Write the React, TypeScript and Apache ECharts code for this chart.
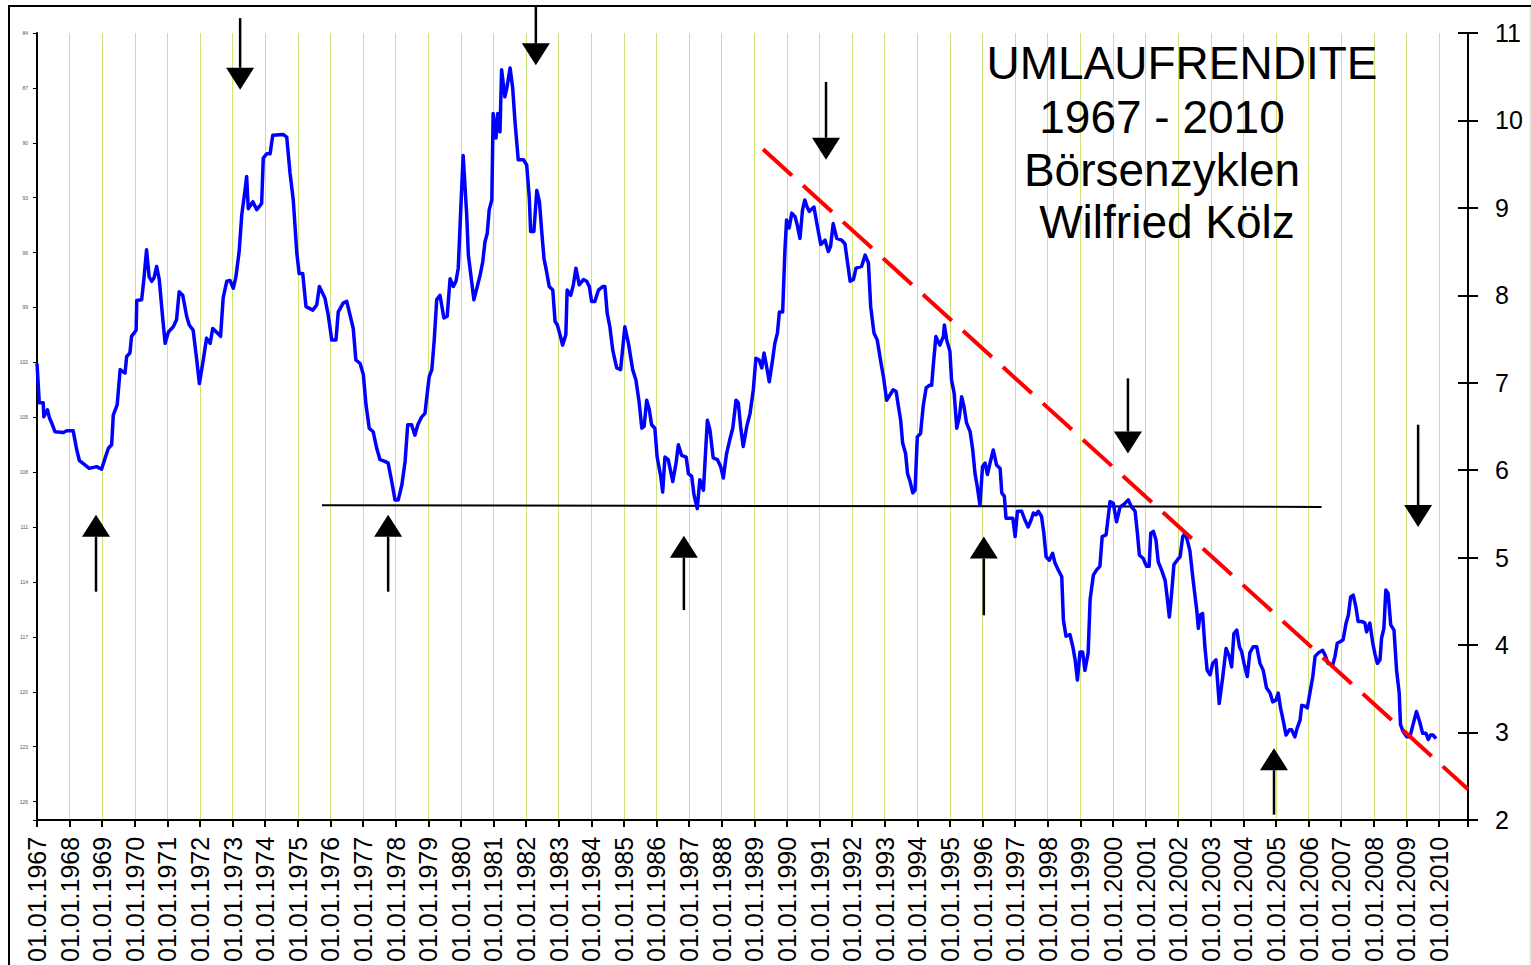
import React, { useEffect, useRef } from "react";
import * as echarts from "echarts";

// Umlaufrendite (decimal year, yield in %)
const umlaufrendite: [number, number][] = [
  [1967.00,7.22],[1967.07,6.77],[1967.19,6.77],[1967.21,6.61],[1967.32,6.69],[1967.38,6.60],[1967.45,6.54],[1967.55,6.44],[1967.81,6.43],[1967.91,6.45],
  [1968.11,6.45],[1968.22,6.23],[1968.30,6.11],[1968.47,6.06],[1968.60,6.02],[1968.83,6.04],[1968.98,6.01],[1969.09,6.14],[1969.19,6.25],[1969.29,6.29],
  [1969.34,6.63],[1969.46,6.75],[1969.55,7.15],[1969.70,7.11],[1969.75,7.30],[1969.85,7.34],[1969.90,7.53],[1970.04,7.60],[1970.06,7.94],[1970.21,7.95],
  [1970.28,8.19],[1970.36,8.52],[1970.44,8.21],[1970.52,8.16],[1970.59,8.20],[1970.67,8.33],[1970.75,8.18],[1970.86,7.72],[1970.93,7.45],[1971.03,7.58],
  [1971.18,7.64],[1971.28,7.72],[1971.36,8.04],[1971.47,8.00],[1971.59,7.76],[1971.67,7.66],[1971.79,7.60],[1971.90,7.26],[1971.98,6.99],[1972.10,7.26],
  [1972.20,7.51],[1972.31,7.45],[1972.39,7.62],[1972.53,7.57],[1972.63,7.53],[1972.71,7.97],[1972.82,8.16],[1972.92,8.17],[1973.02,8.08],[1973.10,8.21],
  [1973.20,8.50],[1973.28,8.92],[1973.38,9.20],[1973.43,9.36],[1973.48,8.99],[1973.62,9.07],[1973.74,8.98],[1973.89,9.05],[1973.94,9.57],[1974.05,9.62],
  [1974.15,9.62],[1974.23,9.83],[1974.55,9.84],[1974.66,9.81],[1974.76,9.40],[1974.86,9.09],[1974.97,8.48],[1975.04,8.25],[1975.15,8.25],[1975.25,7.87],
  [1975.46,7.83],[1975.58,7.89],[1975.66,8.10],[1975.83,7.97],[1975.93,7.78],[1976.04,7.49],[1976.17,7.49],[1976.24,7.81],[1976.39,7.91],[1976.50,7.93],
  [1976.70,7.62],[1976.78,7.26],[1976.91,7.22],[1977.01,7.09],[1977.09,6.75],[1977.19,6.48],[1977.31,6.44],[1977.42,6.25],[1977.52,6.12],[1977.67,6.10],
  [1977.77,6.08],[1977.88,5.87],[1977.98,5.66],[1978.08,5.66],[1978.19,5.83],[1978.29,6.10],[1978.37,6.52],[1978.49,6.52],[1978.59,6.40],[1978.68,6.52],
  [1978.80,6.61],[1978.90,6.65],[1978.95,6.82],[1979.03,7.07],[1979.11,7.15],[1979.18,7.47],[1979.26,7.95],[1979.36,8.00],[1979.48,7.74],[1979.58,7.76],
  [1979.67,8.19],[1979.77,8.10],[1979.85,8.16],[1979.92,8.31],[1979.99,8.92],[1980.07,9.60],[1980.18,8.92],[1980.23,8.46],[1980.33,8.16],[1980.40,7.95],
  [1980.49,8.08],[1980.59,8.23],[1980.67,8.38],[1980.74,8.61],[1980.81,8.71],[1980.87,8.98],[1980.95,9.09],[1980.99,10.08],[1981.08,9.80],[1981.13,10.08],
  [1981.20,9.87],[1981.25,10.58],[1981.35,10.27],[1981.42,10.39],[1981.51,10.60],[1981.59,10.37],[1981.66,9.99],[1981.76,9.55],[1981.92,9.55],[1982.02,9.49],
  [1982.10,9.11],[1982.14,8.73],[1982.24,8.73],[1982.33,9.20],[1982.41,9.07],[1982.48,8.73],[1982.55,8.42],[1982.63,8.27],[1982.71,8.10],[1982.82,8.06],
  [1982.89,7.70],[1982.96,7.66],[1983.04,7.55],[1983.12,7.43],[1983.22,7.55],[1983.26,8.06],[1983.37,8.00],[1983.45,8.12],[1983.53,8.31],[1983.63,8.12],
  [1983.76,8.18],[1983.86,8.16],[1983.94,8.10],[1984.01,7.93],[1984.11,7.93],[1984.22,8.06],[1984.35,8.10],[1984.42,8.10],[1984.49,7.79],[1984.57,7.64],
  [1984.66,7.37],[1984.78,7.17],[1984.90,7.15],[1985.03,7.64],[1985.14,7.45],[1985.27,7.15],[1985.37,7.03],[1985.47,6.77],[1985.55,6.48],[1985.62,6.50],
  [1985.70,6.80],[1985.78,6.69],[1985.85,6.52],[1985.95,6.48],[1986.02,6.15],[1986.13,5.93],[1986.19,5.75],[1986.26,6.15],[1986.36,6.12],[1986.50,5.87],
  [1986.60,6.08],[1986.67,6.29],[1986.77,6.17],[1986.91,6.15],[1986.98,5.96],[1987.08,5.93],[1987.15,5.72],[1987.25,5.56],[1987.33,5.89],[1987.44,5.77],
  [1987.56,6.57],[1987.64,6.46],[1987.74,6.14],[1987.87,6.12],[1987.97,6.04],[1988.05,5.91],[1988.15,6.19],[1988.25,6.35],[1988.34,6.48],[1988.44,6.80],
  [1988.51,6.77],[1988.58,6.50],[1988.66,6.27],[1988.77,6.50],[1988.87,6.65],[1988.97,6.92],[1989.05,7.28],[1989.15,7.26],[1989.23,7.17],[1989.30,7.34],
  [1989.38,7.18],[1989.46,7.01],[1989.56,7.26],[1989.63,7.45],[1989.71,7.57],[1989.77,7.81],[1989.87,7.81],[1989.94,8.52],[1989.99,8.86],[1990.07,8.77],
  [1990.15,8.94],[1990.25,8.90],[1990.32,8.80],[1990.40,8.65],[1990.48,8.98],[1990.55,9.09],[1990.62,9.01],[1990.69,8.96],[1990.83,9.01],[1990.93,8.80],
  [1991.04,8.58],[1991.17,8.63],[1991.27,8.50],[1991.34,8.56],[1991.42,8.82],[1991.53,8.65],[1991.68,8.63],[1991.78,8.59],[1991.85,8.40],[1991.94,8.16],
  [1992.04,8.18],[1992.12,8.31],[1992.29,8.33],[1992.40,8.46],[1992.50,8.37],[1992.57,7.87],[1992.67,7.57],[1992.77,7.49],[1992.88,7.24],[1992.96,7.07],
  [1993.06,6.80],[1993.16,6.86],[1993.26,6.92],[1993.35,6.90],[1993.42,6.73],[1993.49,6.57],[1993.55,6.31],[1993.64,6.19],[1993.70,5.96],[1993.78,5.87],
  [1993.86,5.74],[1993.93,5.77],[1994.00,6.38],[1994.10,6.42],[1994.18,6.73],[1994.27,6.94],[1994.37,6.97],[1994.44,6.97],[1994.49,7.20],[1994.57,7.53],
  [1994.69,7.43],[1994.80,7.53],[1994.83,7.66],[1994.90,7.49],[1995.00,7.36],[1995.05,7.03],[1995.13,6.88],[1995.21,6.48],[1995.29,6.61],[1995.36,6.84],
  [1995.43,6.73],[1995.51,6.54],[1995.62,6.44],[1995.70,6.23],[1995.77,5.96],[1995.84,5.81],[1995.92,5.60],[1996.00,6.04],[1996.08,6.08],[1996.15,5.95],
  [1996.23,6.08],[1996.33,6.23],[1996.43,6.06],[1996.54,6.02],[1996.59,5.74],[1996.67,5.70],[1996.72,5.45],[1996.84,5.45],[1996.93,5.45],[1997.00,5.24],
  [1997.07,5.53],[1997.20,5.53],[1997.30,5.43],[1997.40,5.35],[1997.49,5.43],[1997.56,5.51],[1997.64,5.49],[1997.71,5.53],[1997.81,5.47],[1997.88,5.28],
  [1997.95,5.01],[1998.05,4.97],[1998.15,5.05],[1998.22,4.94],[1998.32,4.86],[1998.43,4.78],[1998.48,4.29],[1998.56,4.10],[1998.68,4.12],[1998.77,3.98],
  [1998.84,3.83],[1998.91,3.60],[1998.99,3.92],[1999.07,3.92],[1999.14,3.71],[1999.24,3.91],[1999.30,4.52],[1999.40,4.80],[1999.50,4.86],[1999.60,4.90],
  [1999.67,5.24],[1999.79,5.26],[1999.91,5.64],[2000.01,5.62],[2000.11,5.41],[2000.22,5.58],[2000.34,5.61],[2000.47,5.66],[2000.57,5.58],[2000.68,5.53],
  [2000.75,5.28],[2000.81,5.03],[2000.93,4.99],[2001.03,4.90],[2001.11,4.90],[2001.16,5.28],[2001.24,5.30],[2001.32,5.20],[2001.39,4.95],[2001.49,4.86],
  [2001.60,4.74],[2001.65,4.59],[2001.73,4.32],[2001.80,4.59],[2001.87,4.92],[2001.97,4.97],[2002.06,5.01],[2002.14,5.24],[2002.21,5.28],[2002.28,5.20],
  [2002.36,5.08],[2002.46,4.74],[2002.57,4.40],[2002.62,4.19],[2002.67,4.34],[2002.75,4.36],[2002.82,3.98],[2002.89,3.71],[2002.98,3.66],[2003.06,3.79],
  [2003.16,3.83],[2003.26,3.33],[2003.37,3.64],[2003.47,3.96],[2003.57,3.87],[2003.64,3.75],[2003.71,4.13],[2003.80,4.17],[2003.88,3.98],[2003.95,3.92],
  [2004.02,3.79],[2004.12,3.64],[2004.20,3.91],[2004.30,3.98],[2004.41,3.98],[2004.51,3.79],[2004.61,3.71],[2004.71,3.51],[2004.82,3.45],[2004.90,3.35],
  [2005.00,3.37],[2005.07,3.45],[2005.14,3.28],[2005.22,3.14],[2005.31,2.97],[2005.41,3.03],[2005.48,3.03],[2005.58,2.95],[2005.65,3.05],[2005.74,3.14],
  [2005.79,3.31],[2005.89,3.30],[2005.96,3.28],[2006.04,3.45],[2006.13,3.64],[2006.20,3.87],[2006.30,3.91],[2006.43,3.94],[2006.50,3.89],[2006.60,3.79],
  [2006.74,3.77],[2006.81,3.87],[2006.88,4.02],[2006.98,4.04],[2007.06,4.06],[2007.15,4.25],[2007.22,4.34],[2007.29,4.55],[2007.37,4.57],[2007.45,4.44],
  [2007.52,4.27],[2007.63,4.27],[2007.73,4.25],[2007.78,4.15],[2007.88,4.25],[2007.97,4.02],[2008.04,3.89],[2008.11,3.79],[2008.19,3.83],[2008.24,4.08],
  [2008.31,4.19],[2008.37,4.63],[2008.44,4.59],[2008.52,4.23],[2008.62,4.17],[2008.70,3.71],[2008.78,3.45],[2008.82,3.09],[2008.90,3.01],[2009.01,2.95],
  [2009.11,2.95],[2009.19,3.07],[2009.31,3.24],[2009.41,3.12],[2009.50,2.99],[2009.60,2.99],[2009.67,2.92],[2009.74,2.97],[2009.82,2.97],[2009.91,2.93],
];

// Red falling trend line (dashed)
const trendLine: [number, number][] = [[1989.27, 9.67], [2010.89, 2.35]];
// Black horizontal support line
const supportLine: [number, number][] = [[1975.74, 5.60], [2006.40, 5.58]];
// Arrows: [year, tip value, tail value]
const upArrows: [number, number, number][] = [
  [1968.81, 5.49, 4.61],
  [1977.77, 5.49, 4.61],
  [1986.84, 5.25, 4.40],
  [1996.04, 5.24, 4.34],
  [2004.94, 2.82, 2.06],
];
const downArrows: [number, number, number][] = [
  [1973.23, 10.35, 11.17],
  [1982.30, 10.63, 11.32],
  [1991.20, 9.55, 10.44],
  [2000.46, 6.19, 7.05],
  [2009.36, 5.35, 6.52],
];

const xMin = 1967;
const xMax = 2010.89;
const titleLines = ["UMLAUFRENDITE", "1967 - 2010", "Börsenzyklen", "Wilfried Kölz"];

const FONT = "'Liberation Sans', Arial, Helvetica, sans-serif";

export default function App() {
  const ref = useRef<HTMLDivElement>(null);

  useEffect(() => {
    if (!ref.current) return;
    const chart = echarts.init(ref.current, null, { renderer: "svg" });

    const arrowData = [
      ...upArrows.map((a) => [a[0], a[1], a[2]]),
      ...downArrows.map((a) => [a[0], a[1], a[2]]),
    ];

    const titlePos = [
      { x: 1182, y: 63 },
      { x: 1162, y: 117 },
      { x: 1162, y: 170 },
      { x: 1167, y: 222 },
    ];

    const option: any = {
      animation: false,
      backgroundColor: "#ffffff",
      grid: { left: 37, right: 63, top: 33, bottom: 144, containLabel: false },
      xAxis: {
        type: "value",
        min: xMin,
        max: xMax,
        interval: 1,
        axisLine: { show: true, onZero: false, lineStyle: { color: "#000", width: 2 } },
        axisTick: {
          show: true,
          length: 7,
          lineStyle: { color: "#000", width: 2 },
        },
        axisLabel: {
          rotate: 90,
          margin: 17,
          color: "#000",
          fontSize: 25,
          fontFamily: FONT,
          hideOverlap: false,
          formatter: (v: number) => (Number.isInteger(v) ? "01.01." + v : ""),
        },
        splitLine: { show: true, lineStyle: { color: "#cfe37d", width: 1 } },
      },
      yAxis: [
        {
          type: "value",
          position: "left",
          inverse: true,
          min: 84,
          max: 127,
          interval: 3,
          axisLine: { show: true, lineStyle: { color: "#000", width: 2 } },
          axisTick: { show: true, length: 4, lineStyle: { color: "#000", width: 1 } },
          axisLabel: {
            fontSize: 5,
            color: "#555",
            margin: 9,
            fontFamily: FONT,
            formatter: (v: number) => (Number.isInteger(v) && v % 3 === 0 ? String(v) : ""),
          },
          splitLine: { show: false },
        },
        {
          type: "value",
          position: "right",
          min: 2,
          max: 11,
          interval: 1,
          axisLine: { show: true, lineStyle: { color: "#000", width: 2 } },
          axisTick: { show: true, length: 10, lineStyle: { color: "#000", width: 2 } },
          axisLabel: { fontSize: 25, color: "#000", margin: 27, fontFamily: FONT },
          splitLine: { show: false },
        },
        {
          type: "value",
          position: "right",
          offset: 0,
          min: 2,
          max: 11,
          interval: 1,
          axisLine: { show: false },
          axisTick: { show: true, inside: true, length: 10, lineStyle: { color: "#000", width: 2 } },
          axisLabel: { show: false },
          splitLine: { show: false },
        },
      ],
      series: [
        {
          type: "line",
          name: "Umlaufrendite",
          xAxisIndex: 0,
          yAxisIndex: 1,
          data: umlaufrendite,
          showSymbol: false,
          symbol: "none",
          lineStyle: { color: "#0000ff", width: 3.5, join: "round" },
          z: 3,
        },
        {
          type: "line",
          name: "Unterstützung",
          xAxisIndex: 0,
          yAxisIndex: 1,
          data: supportLine,
          showSymbol: false,
          symbol: "none",
          lineStyle: { color: "#000", width: 2 },
          z: 2,
        },
        {
          type: "line",
          name: "Trend",
          xAxisIndex: 0,
          yAxisIndex: 1,
          data: trendLine,
          showSymbol: false,
          symbol: "none",
          lineStyle: { color: "#ff0000", width: 4, type: [39, 15], cap: "butt" },
          z: 4,
        },
        {
          type: "custom",
          name: "Pfeile",
          xAxisIndex: 0,
          yAxisIndex: 1,
          clip: false,
          encode: { x: 0, y: [1, 2] },
          data: arrowData,
          z: 5,
          renderItem: (params: any, api: any) => {
            const x = api.value(0);
            const tip = api.coord([x, api.value(1)]);
            const tail = api.coord([x, api.value(2)]);
            const dir = tail[1] > tip[1] ? 1 : -1;
            const headH = 22;
            const headW = 28;
            const baseY = tip[1] + dir * headH;
            return {
              type: "group",
              children: [
                {
                  type: "line",
                  shape: { x1: tail[0], y1: tail[1], x2: tip[0], y2: baseY },
                  style: { stroke: "#000", lineWidth: 2.5 },
                },
                {
                  type: "polygon",
                  shape: {
                    points: [
                      [tip[0], tip[1]],
                      [tip[0] - headW / 2, baseY],
                      [tip[0] + headW / 2, baseY],
                    ],
                  },
                  style: { fill: "#000" },
                },
              ],
            };
          },
        },
      ],
      graphic: [
        { type: "line", shape: { x1: 9, y1: 6, x2: 1531, y2: 6 }, style: { stroke: "#000", lineWidth: 2 }, z: 10 },
        { type: "line", shape: { x1: 9, y1: 5, x2: 9, y2: 965 }, style: { stroke: "#000", lineWidth: 2 }, z: 10 },
        { type: "line", shape: { x1: 1530, y1: 7, x2: 1530, y2: 965 }, style: { stroke: "#d8d8d8", lineWidth: 1 }, z: 10 },
        ...titleLines.map((t, i) => ({
          type: "text",
          x: titlePos[i].x,
          y: titlePos[i].y,
          z: 10,
          style: {
            text: t,
            fill: "#000",
            font: `46px ${FONT}`,
            align: "center",
            verticalAlign: "middle",
          },
        })),
      ],
    };

    chart.setOption(option);
    return () => chart.dispose();
  }, []);

  return (
    <div
      ref={ref}
      style={{ position: "fixed", left: 0, top: 0, width: 1531, height: 965, background: "#fff" }}
    />
  );
}
